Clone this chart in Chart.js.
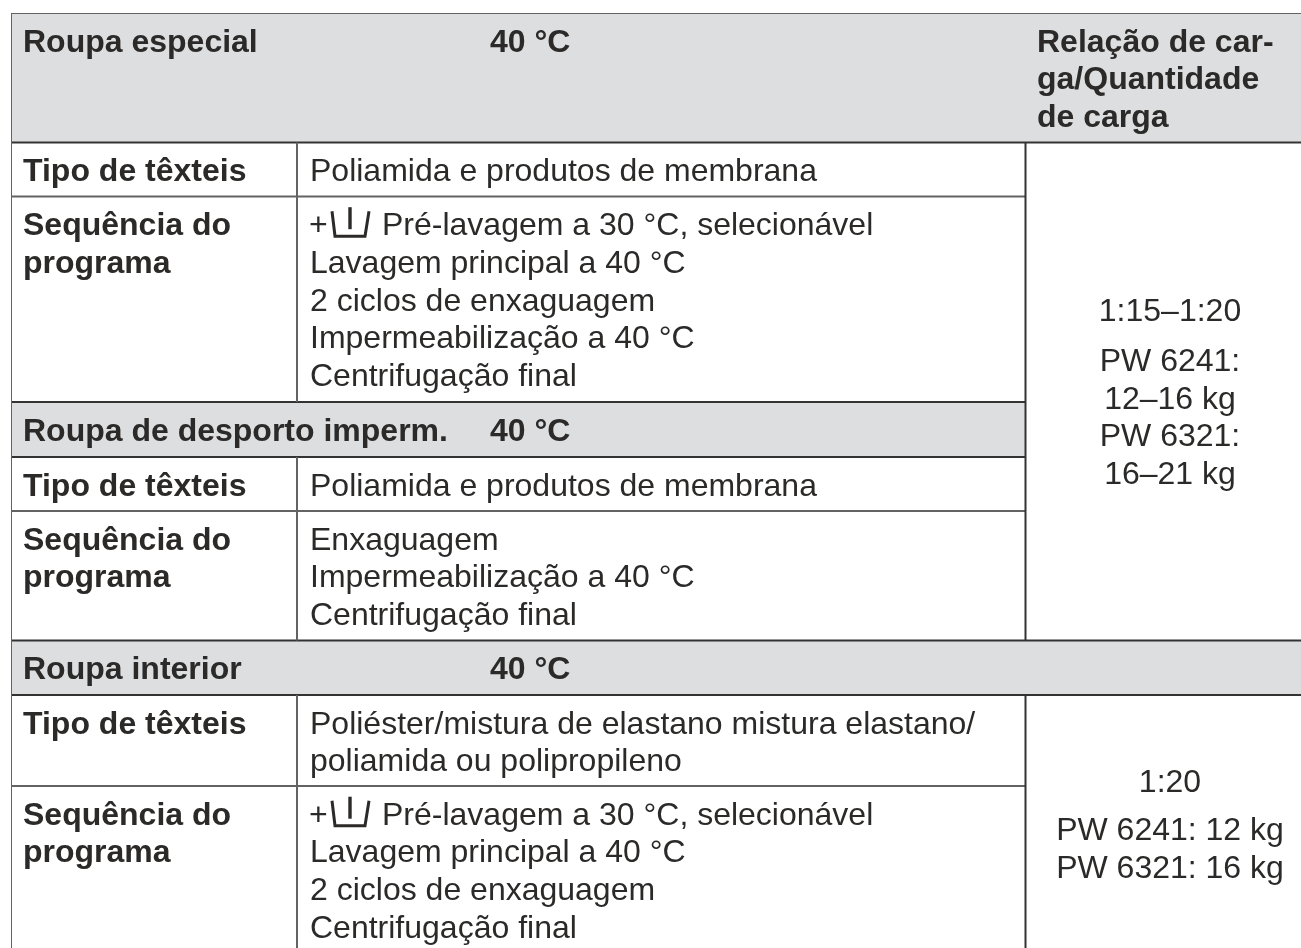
<!DOCTYPE html>
<html>
<head>
<meta charset="utf-8">
<title>Roupa especial</title>
<script src="https://cdn.jsdelivr.net/npm/chart.js@4/dist/chart.umd.js"></script>
<style>
  html, body { margin: 0; padding: 0; background: #fff; overflow: hidden; }
  #wrap { width: 1301px; height: 948px; }
</style>
</head>
<body>
<div id="wrap"><canvas id="table"></canvas></div>
<script>
// Rows of the table, top to bottom
const rowNames = ['Roupa especial', 'Tipo de têxteis', 'Sequência do programa', 'Roupa de desporto imperm.', 'Tipo de têxteis', 'Sequência do programa', 'Roupa interior', 'Tipo de têxteis', 'Sequência do programa'];
const rowHeights = [129.5, 54, 205.5, 55, 54, 129.5, 54.5, 91, 162];
const rowIsBand = [true, false, false, true, false, false, true, false, false];
// top rule goes over the load column as well
const rowIsFull = [true, true, false, false, false, false, true, true, false];

// First column text, split in lines
const rowLabels = [
  ['Roupa especial'],
  ['Tipo de têxteis'],
  ['Sequência do', 'programa'],
  ['Roupa de desporto imperm.'],
  ['Tipo de têxteis'],
  ['Sequência do', 'programa'],
  ['Roupa interior'],
  ['Tipo de têxteis'],
  ['Sequência do', 'programa'],
];

// Second column text
const rowTexts = [
  ['40 °C'],
  ['Poliamida e produtos de membrana'],
  ['Pré-lavagem a 30 °C, selecionável', 'Lavagem principal a 40 °C', '2 ciclos de enxaguagem', 'Impermeabilização a 40 °C', 'Centrifugação final'],
  ['40 °C'],
  ['Poliamida e produtos de membrana'],
  ['Enxaguagem', 'Impermeabilização a 40 °C', 'Centrifugação final'],
  ['40 °C'],
  ['Poliéster/mistura de elastano mistura elastano/', 'poliamida ou polipropileno'],
  ['Pré-lavagem a 30 °C, selecionável', 'Lavagem principal a 40 °C', '2 ciclos de enxaguagem', 'Centrifugação final'],
];

const loadHeader = ['Relação de car-', 'ga/Quantidade', 'de carga'];
const loadRatio = ['1:15–1:20', '1:20'];
const loadAmounts = [['PW 6241:', '12–16 kg', 'PW 6321:', '16–21 kg'], ['PW 6241: 12 kg', 'PW 6321: 16 kg']];

const tableLeft = 11;
const tableRight = 1301;
const tableTop = 13;
const col1 = 297;
const col2 = 1025.5;
const lineGap = 37.7;
const ink = '#2b2a29';
const darkRule = '#333333';
const greyRule = '#636363';
const regular = '32px "Liberation Sans"';
const bold = 'bold 32px "Liberation Sans"';

// running top of every row in the y scale
const rowTops = rowHeights.map((h, i) => rowHeights.slice(0, i).reduce((a, b) => a + b, 0));
const tableEnd = rowHeights.reduce((a, b) => a + b, 0);

// Grey band rows, a line filled down to the bottom of its row
const bandDatasets = rowNames.map((name, i) => ({ name, i })).filter((r) => rowIsBand[r.i]).map((r) => ({
  type: 'line',
  label: r.name,
  data: [
    { x: tableLeft, y: rowTops[r.i] },
    { x: rowIsFull[r.i] ? tableRight : col2, y: rowTops[r.i] },
  ],
  borderWidth: 0,
  pointRadius: 0,
  backgroundColor: '#dcdee0',
  fill: { target: { value: rowTops[r.i] + rowHeights[r.i] } },
  order: 3,
}));

const rowRule = (row) => ({
  type: 'line',
  label: 'rule',
  data: [
    { x: tableLeft, y: rowTops[row] },
    { x: rowIsFull[row] ? tableRight : col2, y: rowTops[row] },
  ],
  // band edges are drawn darker than the rules between plain rows
  borderColor: row > 0 && (rowIsBand[row] || rowIsBand[row - 1]) ? darkRule : greyRule,
  borderWidth: 2,
  pointRadius: 0,
  order: 2,
});

const colRule = (x, from, to, color) => ({
  type: 'line',
  label: 'rule',
  data: [
    { x: x, y: rowTops[from] },
    { x: x, y: to < rowTops.length ? rowTops[to] : tableEnd },
  ],
  borderColor: color,
  borderWidth: 2,
  pointRadius: 0,
  order: 1,
});

const ruleDatasets = [
  ...rowTops.map((top, row) => rowRule(row)),
  colRule(tableLeft, 0, rowTops.length, greyRule),
  colRule(col1, 1, 3, greyRule),
  colRule(col1, 4, 6, greyRule),
  colRule(col1, 7, rowTops.length, greyRule),
  colRule(col2, 1, 6, darkRule),
  colRule(col2, 7, rowTops.length, darkRule),
];

// Wash basin symbol in front of the pre-wash line
function drawBasin(ctx, x, baseline) {
  ctx.save();
  ctx.strokeStyle = ink;
  ctx.lineWidth = 3;
  ctx.beginPath();
  ctx.moveTo(x + 1, baseline - 24);
  ctx.lineTo(x + 4, baseline + 1);
  ctx.lineTo(x + 34, baseline + 1);
  ctx.lineTo(x + 38, baseline - 24);
  ctx.stroke();
  ctx.lineWidth = 3.4;
  ctx.beginPath();
  ctx.moveTo(x + 19, baseline - 28);
  ctx.lineTo(x + 19, baseline - 6);
  ctx.stroke();
  ctx.restore();
}

const cellText = {
  id: 'cellText',
  afterDatasetsDraw(chart) {
    const { ctx, scales } = chart;
    const x = scales.x;
    const y = scales.y;
    ctx.save();
    ctx.fillStyle = ink;
    ctx.textBaseline = 'alphabetic';

    const writeLines = (lines, px, top, font, align) => {
      ctx.font = font;
      ctx.textAlign = align || 'left';
      lines.forEach((line, i) => ctx.fillText(line, px, top + lineGap * i));
    };

    rowNames.forEach((name, i) => {
      const top = y.getPixelForValue(rowTops[i]) + lineGap + 1;
      writeLines(rowLabels[i], x.getPixelForValue(23), top, bold);
      if (rowIsBand[i]) {
        writeLines(rowTexts[i], x.getPixelForValue(490), top, bold);
      } else if (rowTexts[i][0].startsWith('Pré-lavagem')) {
        ctx.font = regular;
        ctx.textAlign = 'left';
        ctx.fillText('+', x.getPixelForValue(309), top);
        drawBasin(ctx, x.getPixelForValue(331), top);
        ctx.fillText(rowTexts[i][0], x.getPixelForValue(382), top);
        writeLines(rowTexts[i].slice(1), x.getPixelForValue(310), top + lineGap, regular);
      } else {
        writeLines(rowTexts[i], x.getPixelForValue(310), top, regular);
      }
    });

    writeLines(loadHeader, x.getPixelForValue(1037), y.getPixelForValue(0) + lineGap + 1, bold);

    const cx = x.getPixelForValue(1170);
    const first = y.getPixelForValue(rowTops[1]);
    writeLines([loadRatio[0]], cx, first + 178.5, regular, 'center');
    writeLines(loadAmounts[0], cx, first + 228.5, regular, 'center');
    const second = y.getPixelForValue(rowTops[7]);
    writeLines([loadRatio[1]], cx, second + 97, regular, 'center');
    writeLines(loadAmounts[1], cx, second + 145, regular, 'center');
    ctx.restore();
  },
};

new Chart(document.getElementById('table'), {
  data: {
    datasets: [...bandDatasets, ...ruleDatasets],
  },
  options: {
    responsive: true,
    maintainAspectRatio: false,
    animation: false,
    layout: { padding: { left: tableLeft, top: tableTop, right: 0, bottom: 0 } },
    plugins: { legend: { display: false }, title: { display: false }, tooltip: { enabled: false } },
    scales: {
      x: { type: 'linear', display: false, min: tableLeft, max: tableRight },
      y: { type: 'linear', display: false, reverse: true, min: 0, max: 935 },
    },
  },
  plugins: [cellText],
});
</script>
</body>
</html>
